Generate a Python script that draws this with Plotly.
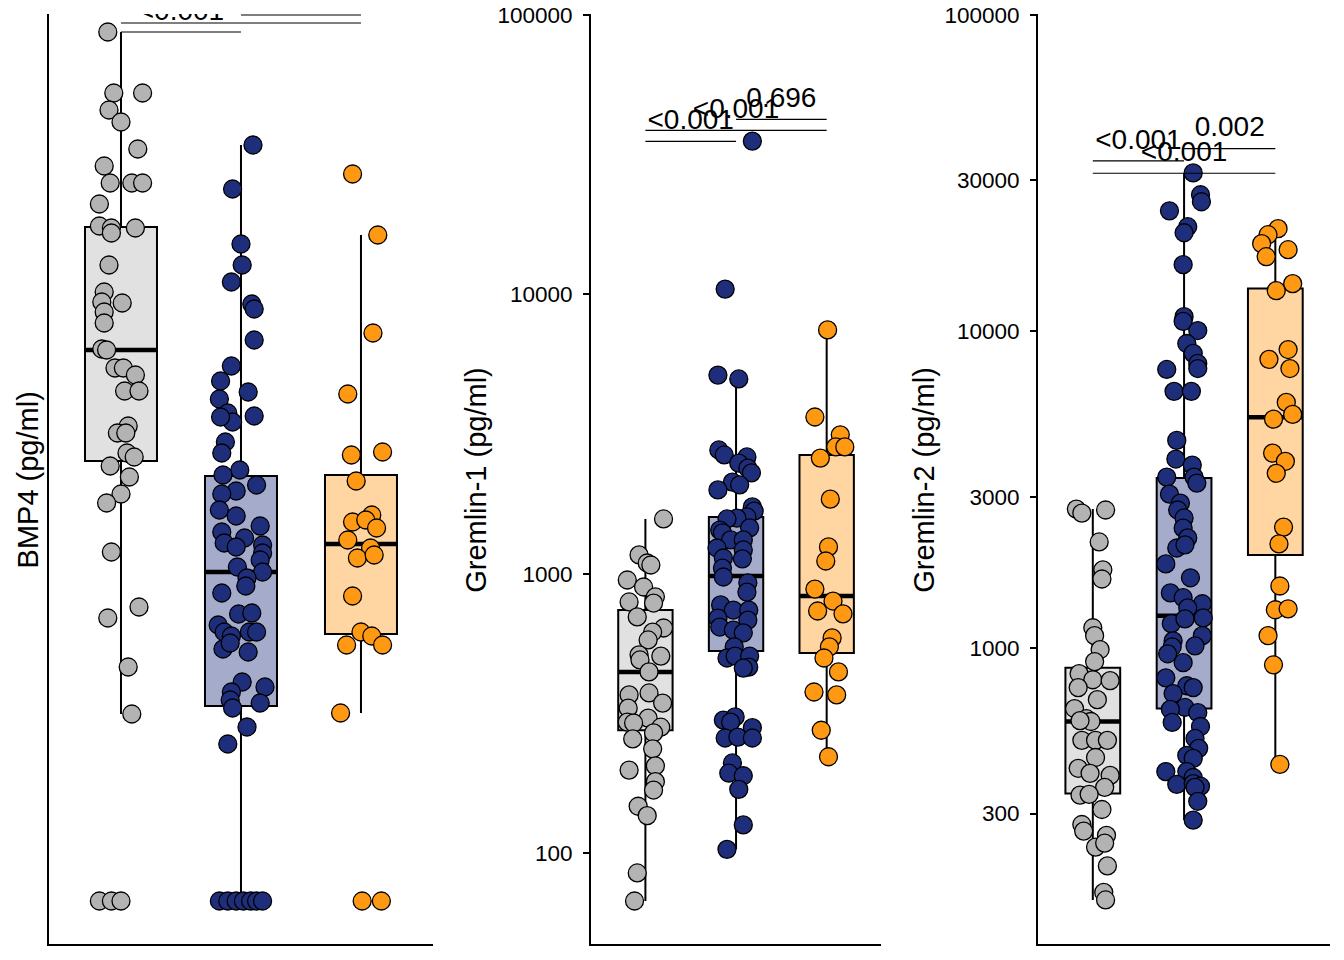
import plotly.graph_objects as go

# category positions on the (hidden) x axis and the colours of the three groups
group_pos = [1, 2, 3]
point_colors = ["#B3B3B3", "#1E2E7B", "#FF9913"]
box_fills = ["#E1E1E1", "#A5ABCA", "#FFD6A1"]

# ---------------- BMP4 (pg/ml) ----------------
bmp4_g1 = [86.9, 80.8, 80.8, 79.1, 77.9, 75.2, 73.5, 71.8, 71.8, 71.8,
           69.7, 67.5, 67.3, 66.8, 67.3, 63.6, 60.9, 59.9, 59.8, 58.9,
           57.8, 55.2, 55.1, 53.3, 53.3, 52.6, 51.0, 51.0, 47.5, 46.8,
           46.8, 44.8, 44.4, 43.5, 42.4, 40.7, 39.8, 34.9, 29.4, 28.3,
           23.4, 18.7, 0, 0, 0]
bmp4_g1_jit = [-0.11, -0.06, 0.18, -0.10, 0.00, 0.14, -0.14, -0.09, 0.09, 0.18,
               -0.18, -0.18, -0.08, -0.08, 0.12, -0.10, -0.14, -0.16, 0.01, -0.14,
               -0.14, -0.16, -0.12, -0.05, 0.02, 0.12, 0.03, 0.15, 0.06, -0.03,
               0.04, 0.05, 0.11, -0.09, 0.07, 0.00, -0.12, -0.08, 0.15, -0.11,
               0.06, 0.09, -0.18, -0.08, 0.00]
bmp4_g2 = [75.6, 71.2, 65.7, 63.6, 61.9, 59.7, 59.2, 56.1, 53.5, 52.0,
           50.9, 50.2, 48.8, 47.9, 48.4, 48.5, 45.9, 44.8, 43.1, 42.6,
           41.6, 41.0, 40.7, 39.1, 38.5, 37.5, 36.9, 36.3, 35.8, 35.4,
           35.6, 34.8, 34.1, 33.4, 32.9, 32.3, 31.5, 30.8, 28.7, 28.8,
           27.6, 26.9, 26.5, 26.9, 26.9, 25.2, 25.8, 24.9, 21.9, 21.4,
           20.9, 20.1, 19.8, 19.3, 17.4, 15.7, 0, 0, 0, 0, 0, 0, 0]
bmp4_g2_jit = [0.10, -0.07, 0.00, 0.01, -0.08, 0.09, 0.11, 0.11, -0.08, -0.17,
               0.06, -0.18, -0.11, -0.07, -0.17, 0.11, -0.13, -0.16, -0.01, -0.15,
               0.13, -0.04, -0.16, -0.18, -0.04, 0.16, -0.16, 0.03, -0.14, -0.04,
               0.18, 0.18, 0.16, -0.03, 0.18, 0.05, 0.04, -0.16, -0.02, 0.09,
               -0.19, -0.14, -0.08, 0.07, 0.13, -0.15, -0.09, 0.06, 0.01, 0.20,
               -0.08, -0.09, 0.16, -0.07, 0.05, -0.11,
               -0.18, -0.11, -0.04, 0.02, 0.08, 0.13, 0.18]
bmp4_g3 = [72.7, 66.6, 56.8, 50.7, 44.6, 44.9, 42.0, 37.9, 38.6, 38.1,
           37.3, 36.1, 35.3, 34.3, 34.6, 30.5, 26.9, 25.6, 26.5, 25.6,
           18.8, 0, 0]
bmp4_g3_jit = [-0.07, 0.14, 0.10, -0.11, -0.08, 0.18, -0.04, -0.07, 0.09, 0.04,
               0.13, -0.11, 0.08, -0.03, 0.11, -0.07, 0.00, -0.12, 0.09, 0.18,
               -0.17, 0.01, 0.17]
bmp4_q1 = [44.0, 19.5, 26.7]
bmp4_median = [55.1, 32.9, 35.7]
bmp4_q3 = [67.4, 42.5, 42.6]
bmp4_low = [18.7, 0, 18.8]
bmp4_high = [86.9, 75.6, 66.6]
bmp4_sig_y = [86.9, 87.8, 88.6]
bmp4_sig_text = ["<0.001", "<0.001", "<0.001"]

# ---------------- Gremlin-1 (pg/ml) ----------------
grem1_g1 = [1570, 1167, 1092, 1074, 949, 896, 826, 792, 785, 700,
            639, 618, 579, 512, 507, 491, 445, 374, 368, 344,
            330, 304, 294, 292, 282, 269, 256, 236, 205, 198,
            180, 168, 147, 136, 84.8, 67.3]
grem1_g1_jit = [0.20, -0.07, 0.02, 0.06, -0.20, -0.02, 0.11, -0.18, 0.09, -0.09,
                0.20, 0.08, 0.03, -0.07, 0.17, -0.06, 0.04, 0.04, -0.18, 0.19,
                -0.19, 0.03, -0.20, -0.13, 0.17, 0.09, -0.14, 0.08, 0.11, -0.18,
                0.11, 0.09, -0.08, 0.02, -0.09, -0.12]
grem1_g2 = [35400, 10450, 5140, 4980, 2773, 2661, 2618, 2489, 2388, 2296,
            2128, 2080, 1995, 1734, 1675, 1596, 1581, 1570, 1432, 1459,
            1400, 1321, 1321, 1236, 1216, 1138, 1130, 1047, 973, 927,
            859, 773, 741, 741, 693, 682, 644, 628, 614, 547,
            499, 507, 507, 463, 459, 299, 307, 294, 281, 258,
            260, 258, 210, 193, 189, 169, 126, 103]
grem1_g2_jit = [0.18, -0.12, -0.20, 0.03, -0.19, -0.13, 0.12, 0.03, 0.13, 0.17,
                -0.04, 0.04, -0.20, 0.18, 0.20, 0.12, 0.01, -0.10, -0.18, 0.15,
                -0.15, -0.06, 0.08, -0.21, 0.08, -0.14, 0.07, -0.15, -0.14, 0.13,
                0.12, -0.17, -0.03, 0.14, -0.20, 0.13, -0.18, -0.03, 0.08, -0.02,
                -0.10, -0.01, 0.15, 0.14, 0.08, -0.14, -0.01, -0.06, 0.18, -0.12,
                0.02, 0.18, -0.04, -0.08, 0.08, 0.03, 0.08, -0.10]
grem1_g3 = [7460, 3639, 3141, 2844, 2844, 2594, 1849, 1247, 1110, 881,
            798, 735, 718, 589, 547, 499, 445, 377, 368, 275, 221]
grem1_g3_jit = [0.01, -0.13, 0.15, 0.10, 0.20, -0.07, 0.04, 0.02, -0.01, -0.13,
                0.07, -0.10, 0.18, 0.06, 0.03, -0.03, 0.13, -0.14, 0.11, -0.06, 0.02]
grem1_q1 = [275, 529, 520]
grem1_median = [445, 981, 832]
grem1_q3 = [741, 1596, 2661]
grem1_low = [67.3, 103, 221]
grem1_high = [1570, 4980, 7460]
grem1_sig_y = [35300, 38680, 42360]
grem1_sig_text = ["<0.001", "<0.001", "0.696"]
grem1_ticks = [100, 1000, 10000, 100000]

# ---------------- Gremlin-2 (pg/ml) ----------------
grem2_g1 = [2748, 2669, 2729, 2163, 1766, 1652, 1159, 1094, 989, 906,
            830, 794, 789, 750, 687, 644, 598, 586, 590, 511,
            511, 511, 451, 417, 402, 396, 363, 343, 345, 309,
            277, 264, 256, 235, 242, 205, 169, 160]
grem2_g1_jit = [-0.18, -0.12, 0.14, 0.07, 0.11, 0.10, 0.00, 0.02, 0.08, 0.02,
                -0.15, 0.00, 0.19, -0.16, 0.05, -0.20, -0.07, -0.02, -0.14, -0.12,
                0.03, 0.16, 0.03, -0.16, -0.03, 0.19, 0.13, -0.14, -0.04, 0.10,
                -0.12, -0.10, 0.15, 0.03, 0.13, 0.16, 0.12, 0.14]
grem2_g2 = [31700, 27040, 25700, 24050, 21430, 20510, 16260, 11140, 10760, 10070,
            9162, 8531, 7925, 7638, 7586, 6471, 6471, 4529, 3954, 3784,
            3467, 3467, 3319, 3062, 2871, 2729, 2576, 2393, 2228, 2070,
            2118, 1844, 1667, 1493, 1442, 1380, 1340, 1194, 1236, 1245,
            1094, 1054, 1009, 1016, 959, 899, 805, 760, 750, 718,
            649, 625, 640, 582, 565, 518, 482, 458, 448, 407,
            407, 371, 390, 373, 366, 363, 328, 286]
grem2_g2_jit = [0.10, 0.18, 0.19, -0.16, 0.04, 0.00, -0.01, 0.00, -0.01, 0.15,
                0.03, 0.10, 0.15, 0.15, -0.19, -0.11, 0.08, -0.08, -0.09, 0.09,
                -0.19, 0.11, 0.14, -0.16, -0.04, -0.07, 0.00, -0.01, 0.04, -0.08,
                0.01, -0.20, 0.07, -0.15, -0.01, 0.20, 0.04, -0.14, 0.01, 0.21,
                0.20, -0.12, -0.13, 0.12, -0.18, -0.01, -0.20, 0.03, 0.10, -0.12,
                0.01, 0.15, -0.15, -0.13, 0.18, 0.12, 0.16, 0.03, 0.10, -0.20,
                0.03, -0.08, 0.10, 0.10, 0.18, 0.12, 0.15, 0.10]
grem2_g3 = [21130, 20220, 18940, 18130, 17230, 14160, 13460, 8770, 8166, 7638,
            5970, 5470, 5284, 4130, 3890, 3565, 2410, 2133, 1570, 1321,
            1330, 1094, 885, 429]
grem2_g3_jit = [0.03, -0.08, -0.15, 0.14, -0.10, 0.19, 0.01, 0.14, -0.07, 0.16,
                0.12, 0.19, -0.02, -0.03, 0.11, 0.01, 0.09, 0.04, 0.05, 0.00,
                0.14, -0.08, -0.02, 0.05]
grem2_q1 = [347, 644, 1968]
grem2_median = [586, 1264, 5358]
grem2_q3 = [867, 3442, 13670]
grem2_low = [160, 286, 429]
grem2_high = [2748, 31700, 21130]
grem2_sig_y = [34590, 31620, 37830]
grem2_sig_text = ["<0.001", "<0.001", "0.002"]
grem2_ticks = [300, 1000, 3000, 10000, 30000, 100000]

sig_pairs = [(1, 2), (1, 3), (2, 3)]

# the page body adds an 8px margin, so the domains are shifted up/left by 8px
panels = [
    dict(title="BMP4 (pg/ml)", groups=[bmp4_g1, bmp4_g2, bmp4_g3],
         jitter=[bmp4_g1_jit, bmp4_g2_jit, bmp4_g3_jit],
         q1=bmp4_q1, median=bmp4_median, q3=bmp4_q3, low=bmp4_low, high=bmp4_high,
         sig_y=bmp4_sig_y, sig_text=bmp4_sig_text, ticks=None,
         xdomain=[0.0305, 0.3162], yrange=[-4.3, 88.7], ytype="linear", title_x=0.0146),
    dict(title="Gremlin-1 (pg/ml)", groups=[grem1_g1, grem1_g2, grem1_g3],
         jitter=[grem1_g1_jit, grem1_g2_jit, grem1_g3_jit],
         q1=grem1_q1, median=grem1_median, q3=grem1_q3, low=grem1_low, high=grem1_high,
         sig_y=grem1_sig_y, sig_text=grem1_sig_text, ticks=grem1_ticks,
         xdomain=[0.4338, 0.6496], yrange=[1.674, 5.004], ytype="log", title_x=0.3482),
    dict(title="Gremlin-2 (pg/ml)", groups=[grem2_g1, grem2_g2, grem2_g3],
         jitter=[grem2_g1_jit, grem2_g2_jit, grem2_g3_jit],
         q1=grem2_q1, median=grem2_median, q3=grem2_q3, low=grem2_low, high=grem2_high,
         sig_y=grem2_sig_y, sig_text=grem2_sig_text, ticks=grem2_ticks,
         xdomain=[0.7664, 0.9837], yrange=[2.065, 5.003], ytype="log", title_x=0.6815),
]
y_domain = [0.025, 0.99375]

FONT = "Liberation Sans, Arial, Helvetica, sans-serif"
fig = go.Figure()
layout = {}
annotations = []

for i, p in enumerate(panels):
    n = "" if i == 0 else str(i + 1)
    xa, ya = "x" + n, "y" + n

    # boxes with whiskers
    for k in range(3):
        fig.add_trace(go.Box(
            x=[group_pos[k]], q1=[p["q1"][k]], median=[p["median"][k]], q3=[p["q3"][k]],
            lowerfence=[p["low"][k]], upperfence=[p["high"][k]],
            width=0.6, whiskerwidth=0, boxpoints=False,
            fillcolor=box_fills[k], line=dict(color="black", width=2),
            xaxis=xa, yaxis=ya, hoverinfo="skip"))
        # thick median bar
        fig.add_trace(go.Scatter(
            x=[group_pos[k] - 0.3, group_pos[k] + 0.3], y=[p["median"][k]] * 2,
            mode="lines", line=dict(color="black", width=4.5),
            xaxis=xa, yaxis=ya, hoverinfo="skip"))

    # jittered points
    for k in range(3):
        fig.add_trace(go.Scatter(
            x=[group_pos[k] + d for d in p["jitter"][k]], y=p["groups"][k],
            mode="markers",
            marker=dict(size=18, color=point_colors[k], line=dict(color="black", width=1.3)),
            xaxis=xa, yaxis=ya))

    # significance brackets and labels (clipped to the panel, like the original);
    # an invisible marker lifts each label a little off its bracket
    for (a, b), yv, txt in zip(sig_pairs, p["sig_y"], p["sig_text"]):
        fig.add_trace(go.Scatter(
            x=[a, b], y=[yv, yv], mode="lines", line=dict(color="black", width=1.2),
            xaxis=xa, yaxis=ya, hoverinfo="skip"))
        fig.add_trace(go.Scatter(
            x=[(a + b) / 2], y=[yv], mode="markers+text", text=[txt],
            textposition="top center",
            marker=dict(size=7, color="rgba(0,0,0,0)"),
            textfont=dict(size=28, color="black", family=FONT), cliponaxis=True,
            xaxis=xa, yaxis=ya, hoverinfo="skip"))

    layout["xaxis" + n] = dict(
        domain=p["xdomain"], anchor=ya, range=[0.4, 3.6], automargin=False,
        showline=True, linecolor="black", linewidth=2,
        showticklabels=False, ticks="", showgrid=False, zeroline=False)
    yax = dict(
        domain=y_domain, anchor=xa, type=p["ytype"], range=p["yrange"], automargin=False,
        showline=True, linecolor="black", linewidth=2,
        showgrid=False, zeroline=False)
    if p["ticks"] is None:
        yax.update(showticklabels=False, ticks="")
    else:
        yax.update(tickvals=p["ticks"], ticktext=[str(t) for t in p["ticks"]],
                   ticks="outside", ticklen=6, tickwidth=2, tickcolor="black",
                   ticklabelstandoff=6, ticklabeloverflow="allow",
                   tickfont=dict(size=22.5, color="black", family=FONT))
    layout["yaxis" + n] = yax

    annotations.append(dict(
        text=p["title"], x=p["title_x"], y=0.5085, xref="paper", yref="paper",
        textangle=-90, showarrow=False, xanchor="center", yanchor="middle",
        font=dict(size=29, color="black", family=FONT)))

fig.update_layout(
    width=1344, height=960,
    margin=dict(l=0, r=0, t=0, b=0, autoexpand=False),
    paper_bgcolor="white", plot_bgcolor="white",
    showlegend=False, annotations=annotations,
    font=dict(family=FONT),
    **layout)

fig.write_html("out.html")
